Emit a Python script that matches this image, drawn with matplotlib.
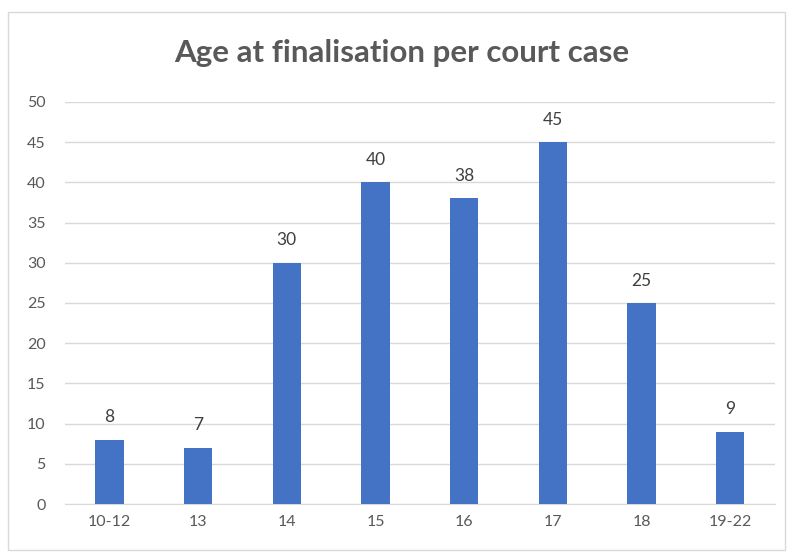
import matplotlib.pyplot as plt
from matplotlib.patches import Rectangle

categorias = ["10-12", "13", "14", "15", "16", "17", "18", "19-22"]
valores = [8, 7, 30, 40, 38, 45, 25, 9]

plt.rcParams['font.family'] = ['Lato', 'DejaVu Sans']

fig = plt.figure(figsize=(7.88, 5.53), dpi=100)
ax = fig.add_axes([0.0825, 0.0886, 0.9005, 0.727])

x = range(len(categorias))
barras = ax.bar(x, valores, width=0.32, color="#4472C4", zorder=3)

# rótulos em cima das barras
for xi, v in zip(x, valores):
    ax.text(xi, v + 1.8, str(v), ha="center", va="bottom",
            fontsize=12.5, color="#404040")

ax.set_xlim(-0.5, len(categorias) - 0.5)
ax.set_ylim(0, 50)
ax.set_yticks(range(0, 51, 5))
ax.set_xticks(list(x))
ax.set_xticklabels(categorias)
ax.tick_params(length=0, labelsize=11.5, labelcolor="#595959", pad=8)
ax.tick_params(axis="y", pad=14)

ax.grid(axis="y", color="#D9D9D9", linewidth=1, zorder=0)
for lado in ["top", "right", "left"]:
    ax.spines[lado].set_visible(False)
ax.spines["bottom"].set_color("#D9D9D9")

fig.text(0.510, 0.905, "Age at finalisation per court case", ha="center",
         va="center", fontsize=22.5, fontweight="bold", color="#595959")

# moldura do gráfico
fig.add_artist(Rectangle((0.010, 0.006), 0.986, 0.972, transform=fig.transFigure,
                         fill=False, edgecolor="#D9D9D9", linewidth=1))

fig.savefig("out.png", dpi=100)
